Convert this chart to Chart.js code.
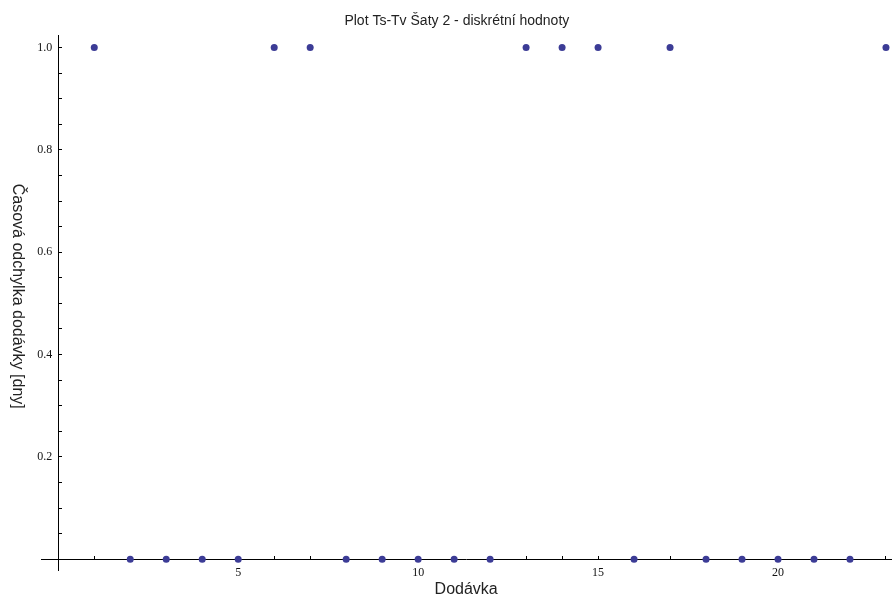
<!DOCTYPE html>
<html>
<head>
<meta charset="utf-8">
<script src="https://cdn.jsdelivr.net/npm/chart.js@4.4.1/dist/chart.umd.min.js"></script>
<style>
  body { margin: 0; background: #fff; }
  canvas { display: block; }
</style>
</head>
<body>
<canvas id="plot" width="896" height="599"></canvas>
<script>
// Dodávka (delivery no.) and deviation values
const deliveries = [1, 2, 3, 4, 5, 6, 7, 8, 9, 10, 11, 12, 13, 14, 15, 16, 17, 18, 19, 20, 21, 22, 23];
const deviations = [1, 0, 0, 0, 0, 1, 1, 0, 0, 0, 0, 0, 1, 1, 1, 0, 1, 0, 0, 0, 0, 0, 1];

// axis ticks
const xTicks = [1, 2, 3, 4, 5, 6, 7, 8, 9, 10, 11, 12, 13, 14, 15, 16, 17, 18, 19, 20, 21, 22, 23];
const xLabels = [5, 10, 15, 20];
const yTicks = [0.05, 0.1, 0.15, 0.2, 0.25, 0.3, 0.35, 0.4, 0.45, 0.5, 0.55, 0.6, 0.65, 0.7, 0.75, 0.8, 0.85, 0.9, 0.95, 1.0];
const yLabels = [0.2, 0.4, 0.6, 0.8, 1.0];

const points = deliveries.map((d, i) => ({ x: d, y: deviations[i] }));
const tickFont = { family: 'Liberation Serif', size: 12 };
const isIn = (list, v) => list.some((l) => Math.abs(l - v) < 1e-9);

const ctx = document.getElementById('plot').getContext('2d');
new Chart(ctx, {
  type: 'scatter',
  data: {
    datasets: [{
      data: points,
      backgroundColor: '#3c3c96',
      borderColor: '#3c3c96',
      borderWidth: 0,
      pointRadius: 3.5,
      clip: false
    }]
  },
  options: {
    responsive: false,
    animation: false,
    layout: { padding: { left: 41, right: 0, top: 0, bottom: 29 } },
    plugins: {
      legend: { display: false },
      tooltip: { enabled: false },
      title: {
        display: true,
        // trailing spaces nudge the centred title a little to the left
        text: 'Plot Ts-Tv Šaty 2 - diskrétní hodnoty      ',
        color: '#222',
        font: { family: 'Liberation Sans', size: 14, weight: 'normal' },
        padding: { top: 13, bottom: 6 }
      }
    },
    scales: {
      x: {
        type: 'linear',
        position: { y: 0 },
        min: -0.48,
        max: 23.15,
        afterBuildTicks: (scale) => { scale.ticks = xTicks.map((v) => ({ value: v })); },
        afterFit: (scale) => { scale.height = 29; },
        grid: { drawOnChartArea: false, drawTicks: true, tickLength: -4, tickColor: '#000' },
        border: { display: true, color: '#000', width: 1 },
        ticks: {
          autoSkip: false,
          maxRotation: 0,
          padding: 10,
          color: '#111',
          font: tickFont,
          callback: (v) => (isIn(xLabels, v) ? String(v) : '')
        },
        title: {
          display: true,
          text: 'Dodávka',
          color: '#222',
          font: { family: 'Liberation Sans', size: 16 },
          padding: { top: 0, bottom: -11 }
        }
      },
      y: {
        type: 'linear',
        position: { x: 0 },
        min: -0.021,
        max: 1.023,
        afterBuildTicks: (scale) => { scale.ticks = yTicks.map((v) => ({ value: v })); },
        afterFit: (scale) => { scale.width = 41; },
        grid: { drawOnChartArea: false, drawTicks: true, tickLength: -4, tickColor: '#000' },
        border: { display: true, color: '#000', width: 1 },
        ticks: {
          autoSkip: false,
          padding: 10,
          color: '#111',
          font: tickFont,
          // trailing spaces keep the label clear of the axis line
          callback: (v) => (isIn(yLabels, v) ? v.toFixed(1) + '  ' : '')
        },
        title: {
          display: true,
          text: 'Časová odchylka dodávky [dny]   ',
          color: '#222',
          font: { family: 'Liberation Sans', size: 16 },
          padding: { top: 0, bottom: -9 }
        }
      }
    }
  }
});
</script>
</body>
</html>
